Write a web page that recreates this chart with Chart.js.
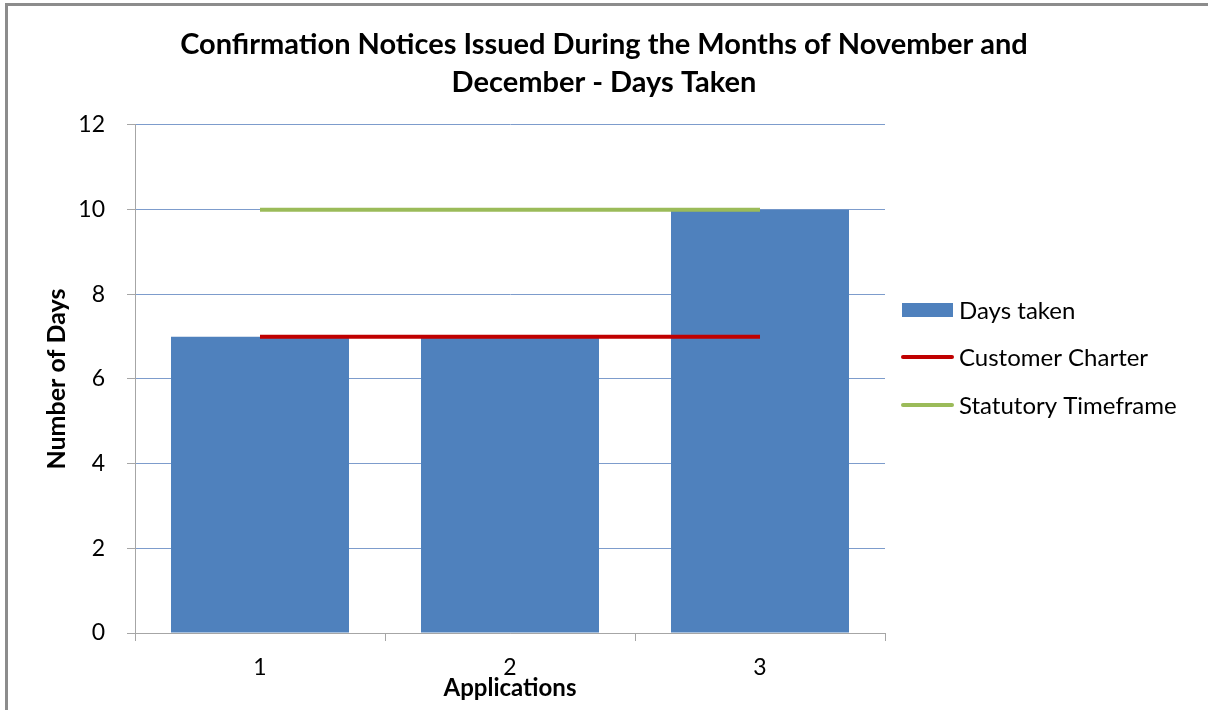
<!DOCTYPE html>
<html>
<head>
<meta charset="utf-8">
<title>Confirmation Notices - Days Taken</title>
<script src="https://cdn.jsdelivr.net/npm/chart.js@4/dist/chart.umd.min.js"></script>
<style>
  html, body { margin: 0; padding: 0; background: #fff; overflow: hidden; }
  #wrap { position: relative; width: 1208px; height: 710px; }
  #frame {
    position: absolute; left: 5px; top: 3px; width: 1400px; height: 900px;
    border-left: 3px solid #8c8c8c; border-top: 3px solid #8c8c8c;
    pointer-events: none;
  }
  canvas { position: absolute; left: 0; top: 0; }
</style>
</head>
<body>
<div id="wrap">
  <canvas id="chart" width="1208" height="710"></canvas>
  <div id="frame"></div>
</div>
<script>
const applications = ["1", "2", "3"];
const daysTaken = [7, 7, 10];
const customerCharter = [7, 7, 7];
const statutoryTimeframe = [10, 10, 10];
const yMin = 0;
const yMax = 12;
const yStep = 2;

const FONT = "Lato, 'Liberation Sans', sans-serif";

// legend drawn by hand so it sits like the Excel one
const sideLegend = {
  id: "sideLegend",
  afterDraw(chart) {
    const ctx = chart.ctx;
    const x0 = chart.chartArea.right + 17;
    const rows = [310, 357, 405];
    ctx.save();
    ctx.font = "24px " + FONT;
    ctx.textBaseline = "middle";
    chart.data.datasets.forEach(function (ds, i) {
      const y = rows[i];
      if (ds.type === "line") {
        ctx.strokeStyle = ds.borderColor;
        ctx.lineWidth = 4;
        ctx.lineCap = "round";
        ctx.beginPath();
        ctx.moveTo(x0 + 1, y);
        ctx.lineTo(x0 + 50, y);
        ctx.stroke();
      } else {
        ctx.fillStyle = ds.backgroundColor;
        ctx.fillRect(x0, y - 7, 51, 14);
      }
      ctx.fillStyle = "#000";
      ctx.fillText(ds.label, x0 + 57, y + 1);
    });
    ctx.restore();
  }
};

new Chart(document.getElementById("chart"), {
  type: "bar",
  data: {
    labels: applications,
    datasets: [
      {
        label: "Days taken",
        data: daysTaken,
        backgroundColor: "#4f81bd",
        categoryPercentage: 0.712,
        barPercentage: 1,
        order: 2
      },
      {
        type: "line",
        label: "Customer Charter",
        data: customerCharter,
        borderColor: "#c00000",
        backgroundColor: "#c00000",
        borderWidth: 4,
        pointRadius: 0,
        fill: false,
        order: 1
      },
      {
        type: "line",
        label: "Statutory Timeframe",
        data: statutoryTimeframe,
        borderColor: "#9bbb59",
        backgroundColor: "#9bbb59",
        borderWidth: 4,
        pointRadius: 0,
        fill: false,
        order: 0
      }
    ]
  },
  options: {
    responsive: false,
    animation: false,
    layout: { padding: 0 },
    plugins: {
      legend: { display: false },
      tooltip: { enabled: false },
      title: {
        display: true,
        text: [
          "Confirmation Notices Issued During the Months of November and",
          "December - Days Taken"
        ],
        color: "#000",
        font: { family: FONT, size: 29, weight: "bold", lineHeight: 1.31 },
        padding: { top: 26, bottom: 23 }
      }
    },
    scales: {
      x: {
        grid: {
          offset: true,
          drawOnChartArea: false,
          tickLength: 8,
          tickColor: "#a6a6a6"
        },
        border: { color: "#a6a6a6", width: 1 },
        ticks: {
          color: "#000",
          padding: 13,
          font: { family: FONT, size: 23 }
        },
        title: {
          display: true,
          text: "Applications",
          color: "#000",
          font: { family: FONT, size: 24, weight: "bold", lineHeight: 1.2 },
          padding: { top: 0, bottom: 7 }
        },
        afterFit(s) { s.height = 77; }
      },
      y: {
        min: yMin,
        max: yMax,
        ticks: {
          stepSize: yStep,
          color: "#000",
          padding: 22,
          font: { family: FONT, size: 23 }
        },
        grid: {
          color: (c) => (c.tick && c.tick.value === 0 ? "#a6a6a6" : "#7d9ccc"),
          lineWidth: 1,
          tickLength: 8,
          tickColor: "#a6a6a6"
        },
        border: { color: "#a6a6a6", width: 1 },
        title: {
          display: true,
          text: "Number of Days",
          color: "#000",
          font: { family: FONT, size: 25, weight: "bold", lineHeight: 1.2 },
          padding: { top: 42, bottom: 0 }
        },
        afterFit(s) { s.width = 135; }
      },
      // empty axis on the right just keeps room for the legend
      legendRoom: {
        type: "linear",
        position: "right",
        grid: { display: false },
        border: { display: false },
        ticks: { display: false },
        afterFit(s) { s.width = 323; }
      }
    }
  },
  plugins: [sideLegend]
});
</script>
</body>
</html>
